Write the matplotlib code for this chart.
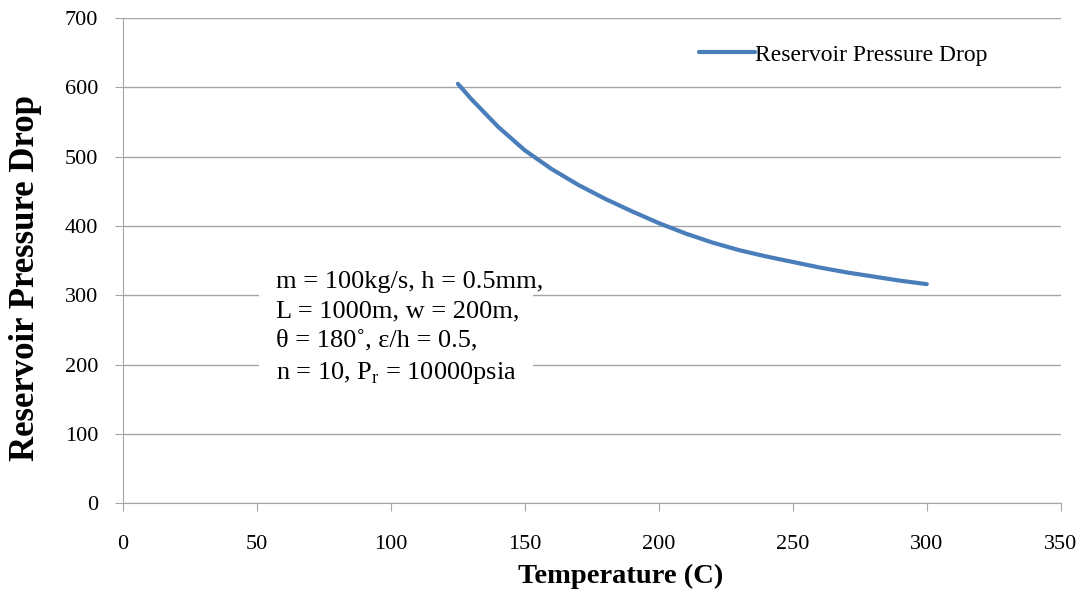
import matplotlib.pyplot as plt
from matplotlib.patches import Rectangle

plt.rcParams['font.family'] = 'Liberation Serif'
plt.rcParams['mathtext.fontset'] = 'custom'
plt.rcParams['mathtext.rm'] = 'Liberation Serif'

temperature = [125, 130, 140, 150, 160, 170, 180, 190, 200, 210, 220,
               230, 240, 250, 260, 270, 280, 290, 300]
pressure_drop = [605, 583, 543, 509, 482, 459, 439, 421, 404, 389, 376,
                 365, 356, 348, 340, 333, 327, 321, 316]

x_ticks = list(range(0, 351, 50))
y_ticks = list(range(0, 701, 100))

fig = plt.figure(figsize=(10.84, 5.99), dpi=100)
ax = fig.add_axes([0.1135, 0.160, 0.865, 0.810])

ax.plot(temperature, pressure_drop, color='#4a7ebb', lw=3,
        solid_capstyle='round', solid_joinstyle='round',
        label='Reservoir Pressure Drop')

ax.set_xlim(0, 350)
ax.set_ylim(0, 700)
ax.set_xticks(x_ticks)
ax.set_yticks(y_ticks)
ax.yaxis.grid(True, color='#a6a6a6', lw=1)
ax.set_axisbelow(True)
for s in ['top', 'right']:
    ax.spines[s].set_visible(False)
for s in ['left', 'bottom']:
    ax.spines[s].set_color('#a6a6a6')
ax.tick_params(axis='both', colors='#a6a6a6', labelcolor='black',
               labelsize=16, length=6, direction='out')
ax.tick_params(axis='x', pad=17)
ax.tick_params(axis='y', pad=12)

ax.set_xlabel('Temperature (C)', fontsize=20.5, fontweight='bold')
ax.set_ylabel('Reservoir Pressure Drop', fontsize=25, fontweight='bold')
ax.xaxis.set_label_coords(0.531, -0.126)
ax.yaxis.set_label_coords(-0.086, 0.465)

ax.legend(loc='upper right', bbox_to_anchor=(0.945, 0.99), frameon=False,
          fontsize=17, handlelength=2.4, handletextpad=0.0)

# white box behind the note, hides the gridlines
ax.add_patch(Rectangle((0.145, 0.212), 0.292, 0.28, transform=ax.transAxes,
                       facecolor='white', edgecolor='none', zorder=2))
note = ('m = 100kg/s, h = 0.5mm,\n'
        'L = 1000m, w = 200m,\n'
        '\u03b8 = 180\u02da, \u03b5/h = 0.5,\n'
        'n = 10, P$_\\mathrm{r}$ = 10000psia')
ax.text(0.163, 0.36, note, transform=ax.transAxes, fontsize=19,
        va='center', ha='left', linespacing=1.42, zorder=3)

fig.savefig('out.png', dpi=100)
